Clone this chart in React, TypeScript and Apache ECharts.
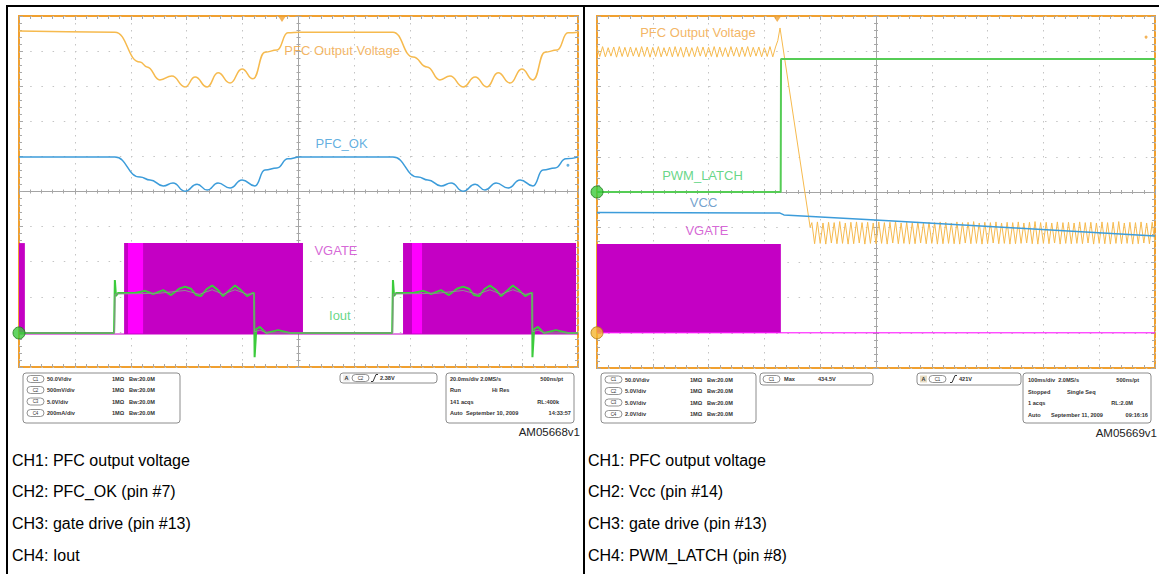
import React, { useEffect, useRef } from "react";
import * as echarts from "echarts";

// ---------------- scales ----------------
// x = time in ms (left capture 20 ms/div, right capture 100 ms/div)
// y = screen divisions measured from the centre graticule line
const leftTimeRange = [-100, 100];
const leftTimeDiv = 20;
const rightTimeRange = [-500, 500];
const rightTimeDiv = 100;
const divRange = [-5, 5];

// ---------------- left capture (AM05668v1) ----------------
const leftPfcVoltage = [
  [-100, 4.57], [-65.7, 4.54], [-56.7, 3.69], [-54.2, 3.55], [-49.6, 3.18], [-45.3, 3.29],
  [-40.6, 2.98], [-37.0, 3.26], [-32.7, 2.98], [-28.8, 3.38], [-24.5, 3.09], [-20.2, 3.49],
  [-16.3, 3.21], [-12.0, 3.97], [-7.7, 4.03], [-3.8, 4.52], [0.5, 4.54],
  [33.8, 4.54], [41.0, 3.83], [46.0, 3.55], [50.6, 3.18], [54.2, 3.29], [58.9, 2.98],
  [63.2, 3.26], [67.4, 2.98], [71.4, 3.38], [75.7, 3.09], [79.9, 3.49], [83.9, 3.18],
  [88.2, 3.97], [92.5, 4.03], [96.4, 4.52], [100, 4.54],
];
const leftPfcOk = [
  [-100, 0.98], [-65.7, 0.98], [-56.7, 0.41], [-53.1, 0.33], [-48.4, 0.16], [-44.9, 0.24],
  [-40.6, 0.01], [-36.3, 0.21], [-32.7, 0.04], [-28.8, 0.24], [-24.5, 0.10], [-20.2, 0.33],
  [-15.6, 0.16], [-12.0, 0.61], [-7.7, 0.67], [-3.8, 0.93], [0.5, 0.98],
  [33.8, 0.98], [42.8, 0.41], [46.3, 0.33], [51.0, 0.16], [54.6, 0.24], [58.9, 0.01],
  [63.2, 0.21], [66.7, 0.04], [70.7, 0.24], [75.0, 0.10], [79.3, 0.33], [83.9, 0.16],
  [87.5, 0.61], [91.8, 0.67], [95.7, 0.93], [100, 0.98],
];
const leftIout = [
  [-100, -4.03], [-66.0, -4.03], [-65.7, -2.52], [-65.3, -2.98], [-64.6, -2.89], [-58.5, -2.89],
  [-54.9, -2.83], [-52.0, -2.92], [-48.4, -2.81], [-45.6, -2.95], [-42.7, -2.77], [-40.6, -2.71],
  [-38.5, -2.77], [-36.6, -2.95], [-34.9, -2.98], [-32.7, -2.77], [-30.9, -2.68], [-28.8, -2.81],
  [-27.0, -2.98], [-24.9, -2.83], [-22.7, -2.68], [-20.6, -2.81], [-18.4, -2.98], [-16.3, -2.89],
  [-15.9, -2.89], [-15.7, -4.72], [-15.1, -3.92], [-13.8, -3.86], [-11.6, -4.03], [-7.3, -3.95],
  [-3.0, -4.03], [33.5, -4.03], [33.8, -2.52], [34.2, -2.98], [34.9, -2.89], [41.0, -2.89],
  [44.6, -2.83], [47.5, -2.92], [51.0, -2.81], [53.8, -2.95], [56.7, -2.77], [58.9, -2.71],
  [61.0, -2.77], [62.8, -2.95], [64.6, -2.98], [66.7, -2.77], [68.5, -2.68], [70.7, -2.81],
  [72.5, -2.98], [74.6, -2.83], [76.7, -2.68], [78.9, -2.81], [81.1, -2.98], [83.2, -2.89],
  [83.6, -2.89], [83.7, -4.72], [84.3, -3.92], [85.7, -3.86], [87.8, -4.03], [92.1, -3.95],
  [96.4, -4.03], [100, -4.03],
];
const leftIoutMean = [
  [-100, -4.03], [-65.8, -4.03], [-65.6, -2.92], [-50.0, -2.90], [-40.6, -2.82], [-35.5, -2.93],
  [-30.9, -2.80], [-27.0, -2.93], [-22.7, -2.80], [-18.4, -2.93], [-16.0, -2.90], [-15.8, -4.0],
  [-13.8, -3.95], [-11.6, -4.03], [33.7, -4.03], [33.9, -2.92], [49.5, -2.90], [58.9, -2.82],
  [64.0, -2.93], [68.5, -2.80], [72.5, -2.93], [76.7, -2.80], [81.1, -2.93], [83.5, -2.90],
  [83.7, -4.0], [85.7, -3.95], [87.8, -4.03], [100, -4.03],
];
const leftVgateBursts = [[-100, -97.9], [-62.4, 1.6], [37.4, 99.3]];
const leftVgateSoftStart = [[-61.0, -55.6], [40.6, 44.2]];
const leftVgateLevels = [-4.06, -1.47]; // low, high
const leftVgateIdle = [[-100, -4.06], [100, -4.06]];
const leftGroundMarkers = [[-100, -4.03]];
const leftTrigger = [[-5.9, 5]];
const leftRefMarker = [[96.4, 0.75]];
const leftLabelTexts = ["PFC Output Voltage", "PFC_OK", "VGATE", "Iout"];
const leftLabelPos = [[15.6, 4.03], [15.4, 1.38], [13.4, -1.67], [14.8, -3.52]];

// ---------------- right capture (AM05669v1) ----------------
const rippleStepMs = 5;
const rightPfcBeforeStart = -500;
const rightPfcBefore = [
  4.11, 3.85, 4.13, 3.84, 4.10, 3.86, 4.12, 3.83, 4.13, 3.85, 4.11, 3.84, 4.12, 3.86, 4.10, 3.84,
  4.13, 3.85, 4.12, 3.83, 4.11, 3.85, 4.13, 3.84, 4.10, 3.86, 4.12, 3.84, 4.13, 3.85, 4.11, 3.83,
  4.12, 3.85, 4.10, 3.84, 4.13, 3.86, 4.12, 3.84, 4.11, 3.85, 4.13, 3.83, 4.12, 3.85, 4.10, 3.84,
  4.13, 3.86, 4.11, 3.84, 4.12, 3.85, 4.13, 3.84, 4.11, 3.86, 4.12, 3.84, 4.10, 3.85, 4.13, 3.84,
  4.12,
];
const rightPfcCollapse = [[-176, 4.3], [-172, 4.66], [-118, -1.0]];
const rightPfcAfterStart = -115;
const rightPfcAfter = [
  -0.87, -1.47, -0.85, -1.46, -0.88, -1.48, -0.86, -1.45, -0.87, -1.47, -0.84, -1.46, -0.88, -1.48, -0.86, -1.47,
  -0.85, -1.45, -0.87, -1.48, -0.86, -1.46, -0.88, -1.47, -0.85, -1.46, -0.87, -1.48, -0.86, -1.45, -0.84, -1.47,
  -0.88, -1.46, -0.86, -1.48, -0.87, -1.47, -0.85, -1.45, -0.88, -1.47, -0.86, -1.46, -0.87, -1.48, -0.85, -1.47,
  -0.86, -1.46, -0.88, -1.47, -0.85, -1.48, -0.87, -1.45, -0.86, -1.47, -0.84, -1.46, -0.88, -1.48, -0.86, -1.47,
  -0.87, -1.45, -0.85, -1.47, -0.88, -1.46, -0.86, -1.48, -0.87, -1.47, -0.85, -1.46, -0.88, -1.45, -0.86, -1.47,
  -0.84, -1.48, -0.87, -1.46, -0.86, -1.47, -0.88, -1.45, -0.85, -1.48, -0.87, -1.46, -0.86, -1.47, -0.88, -1.46,
  -0.85, -1.47, -0.87, -1.45, -0.86, -1.48, -0.88, -1.46, -0.85, -1.47, -0.87, -1.48, -0.86, -1.46, -0.84, -1.47,
  -0.88, -1.46, -0.86, -1.48, -0.87, -1.47, -0.85, -1.45, -0.88, -1.47, -0.86, -1.46,
];
const rightPwmLatch = [[-500, 0.0], [-170.8, 0.0], [-170.2, 3.78], [500, 3.78]];
const rightVcc = [[-500, -0.58], [-172, -0.6], [-165, -0.65], [7, -0.8], [250, -1.02], [500, -1.25]];
const rightVgateBursts = [[-500, -170.5]];
const rightVgateLevels = [-4.0, -1.48];
const rightVgateIdle = [[-500, -4.0], [500, -4.0]];
const rightGroundMarkersGreen = [[-500, 0.0]];
const rightGroundMarkersOrange = [[-500, -4.0]];
const rightTrigger = [[-177, 5]];
const rightRefMarker = [[484, 4.4]];
const rightLabelTexts = ["PFC Output Voltage", "PWM_LATCH", "VCC", "VGATE"];
const rightLabelPos = [[-319, 4.52], [-311, 0.48], [-309, -0.31], [-303, -1.08]];

// ---------------- readout texts ----------------
const leftScaleRows = [["C1", "50.0V/div"], ["C2", "500mV/div"], ["C3", "5.0V/div"], ["C4", "200mA/div"]];
const rightScaleRows = [["C1", "50.0V/div"], ["C2", "5.0V/div"], ["C3", "5.0V/div"], ["C4", "2.0V/div"]];
const probeTexts = ["1MΩ", "Bw:20.0M"];
const leftTriggerTexts = ["A", "C2", "2.38V"];
const rightTriggerTexts = ["A", "C1", "421V"];
const rightMeasureTexts = ["C1", "Max", "434.5V"];
const leftAcqTexts = ["20.0ms/div 2.0MS/s", "500ns/pt", "Run", "Hi Res", "141 acqs", "RL:400k", "Auto", "September 10, 2009", "14:33:57"];
const rightAcqTexts = ["100ms/div  2.0MS/s", "500ns/pt", "Stopped", "Single Seq", "1 acqs", "RL:2.0M", "Auto", "September 11, 2009", "09:16:16"];
const figureIds = ["AM05668v1", "AM05669v1"];
const leftCaptions = ["CH1: PFC output voltage", "CH2: PFC_OK (pin #7)", "CH3: gate drive (pin #13)", "CH4: Iout"];
const rightCaptions = ["CH1: PFC output voltage", "CH2: Vcc (pin #14)", "CH3: gate drive (pin #13)", "CH4: PWM_LATCH (pin #8)"];

// ---------------- styling ----------------
const FONT = '"Liberation Sans", Arial, sans-serif';
const FRAME = "#F0A030";
const GRID_DOT = "#C4C4C4";
const CENTRE = "#A4A4A4";
const TICK = "#A8A8A8";
const ORANGE = "#F6BA4E";
const BLUE = "#3C9CDA";
const MAGENTA = "#C400C4";
const MAGENTA_BRIGHT = "#FF00FF";
const GREEN = "#3CCB3C";
const SMALL = 5.6;

function xAxesFor(g: number, range: number[], interval: number) {
  const tick = { show: true, inside: true, length: 4, lineStyle: { color: TICK } };
  const minor = { show: true, splitNumber: 5, length: 3, lineStyle: { color: TICK } };
  const common: any = {
    type: "value", gridIndex: g, min: range[0], max: range[1], interval,
    axisLabel: { show: false }, splitLine: { show: false }, axisTick: tick, minorTick: minor,
  };
  return [
    { ...common, position: "bottom", axisLine: { show: false, onZero: false },
      splitLine: { show: true, lineStyle: { color: GRID_DOT, width: 1, type: [1.5, 5.5] } } },
    { ...common, position: "top", axisLine: { show: false, onZero: false } },
    { ...common, position: "bottom", axisLine: { show: true, onZero: true, onZeroAxisIndex: 4 * g, lineStyle: { color: CENTRE, width: 1 } },
      axisTick: { ...tick, length: 3 }, minorTick: { ...minor, length: 2 } },
    { ...common, position: "bottom", axisLine: { show: false, onZero: true, onZeroAxisIndex: 4 * g },
      axisTick: { ...tick, inside: false, length: 3 }, minorTick: { ...minor, length: 2 } },
  ];
}
function yAxesFor(g: number) {
  const tick = { show: true, inside: true, length: 4, lineStyle: { color: TICK } };
  const minor = { show: true, splitNumber: 5, length: 3, lineStyle: { color: TICK } };
  const common: any = {
    type: "value", gridIndex: g, min: divRange[0], max: divRange[1], interval: 1,
    axisLabel: { show: false }, splitLine: { show: false }, axisTick: tick, minorTick: minor,
  };
  return [
    { ...common, position: "left", axisLine: { show: false, onZero: false },
      splitLine: { show: true, lineStyle: { color: GRID_DOT, width: 1, type: [1.5, 9.7] } } },
    { ...common, position: "right", axisLine: { show: false, onZero: false } },
    { ...common, position: "left", axisLine: { show: true, onZero: true, onZeroAxisIndex: 4 * g, lineStyle: { color: CENTRE, width: 1 } },
      axisTick: { ...tick, length: 3 }, minorTick: { ...minor, length: 2 } },
    { ...common, position: "left", axisLine: { show: false, onZero: true, onZeroAxisIndex: 4 * g },
      axisTick: { ...tick, inside: false, length: 3 }, minorTick: { ...minor, length: 2 } },
  ];
}

function lineSeries(name: string, data: number[][], ax: any, color: string, width: number, smooth: number | boolean = false) {
  return { type: "line", name, data, ...ax, symbol: "none", smooth, smoothMonotone: "x", silent: true,
    lineStyle: { color, width }, itemStyle: { color } };
}
function blockSeries(name: string, bursts: number[][], levels: number[], ax: any, color: string) {
  return {
    type: "custom", name, ...ax, silent: true, clip: true,
    data: bursts.map(([s, e]) => [s, e, levels[0], levels[1]]),
    encode: { x: [0, 1], y: [2, 3] },
    renderItem: (_p: any, api: any) => {
      const a = api.coord([api.value(0), api.value(3)]);
      const b = api.coord([api.value(1), api.value(2)]);
      return { type: "rect", shape: { x: a[0], y: a[1], width: b[0] - a[0], height: b[1] - a[1] }, style: { fill: color } };
    },
  };
}
function markerSeries(name: string, data: number[][], ax: any, opts: any) {
  return { type: "scatter", name, data, ...ax, silent: true, clip: false, z: 5, ...opts };
}
function labelSeries(name: string, texts: string[], pos: number[][], colors: string[], ax: any) {
  return {
    type: "scatter", name, ...ax, silent: true, clip: false, z: 6, symbolSize: 1,
    itemStyle: { color: "rgba(0,0,0,0)" },
    label: { show: true, position: "inside", formatter: "{b}", fontSize: 13, fontFamily: FONT },
    data: texts.map((t, i) => ({ name: t, value: pos[i], label: { color: colors[i] } })),
  };
}
function sampled(start: number, values: number[]) {
  return values.map((v, i) => [start + i * rippleStepMs, v]);
}

// ---------------- graphic helpers ----------------
const txt = (x: number, y: number, text: string, o: any = {}) => ({
  type: "text", x, y, silent: true,
  style: { text, fill: o.fill ?? "#333", fontSize: o.size ?? SMALL, fontWeight: o.weight ?? "bold", fontFamily: FONT,
    align: o.align ?? "left", verticalAlign: "middle", textAlign: o.align ?? "left", textVerticalAlign: "middle" },
});
const box = (x: number, y: number, w: number, h: number) => ({
  type: "rect", silent: true, shape: { x, y, width: w, height: h, r: 3 }, style: { fill: "#fff", stroke: "#8c8c8c", lineWidth: 1 },
});
const pill = (x: number, y: number, label: string) => [
  { type: "rect", silent: true, shape: { x, y: y - 3.5, width: 17, height: 7, r: 3.5 }, style: { fill: "#fff", stroke: "#777", lineWidth: 0.8 } },
  txt(x + 8.5, y, label, { size: 4.5, align: "center", weight: "normal" }),
];
const badgeA = (x: number, y: number, label: string, fill: string) => [
  { type: "rect", silent: true, shape: { x, y: y - 3.5, width: 7, height: 7 }, style: { fill } },
  txt(x + 3.5, y, label, { size: 5.5, align: "center" }),
];
const slope = (x: number, y: number) => ({
  type: "polyline", silent: true, shape: { points: [[x, y + 3.5], [x + 2, y + 3.5], [x + 5, y - 3.5], [x + 7, y - 3.5]] },
  style: { stroke: "#333", lineWidth: 1, fill: null },
});

function buildGraphics() {
  const els: any[] = [];
  // table rules
  els.push({ type: "rect", silent: true, shape: { x: 6, y: 5, width: 1153, height: 2 }, style: { fill: "#000" } });
  els.push({ type: "rect", silent: true, shape: { x: 6, y: 5, width: 2, height: 569 }, style: { fill: "#000" } });
  els.push({ type: "rect", silent: true, shape: { x: 583, y: 5, width: 2, height: 569 }, style: { fill: "#000" } });

  // left scale box
  els.push(box(23, 373, 157, 50));
  const lRows = [379, 390, 401.5, 413];
  leftScaleRows.forEach(([c, v], i) => {
    els.push(...pill(27, lRows[i], c));
    els.push(txt(47, lRows[i], v));
    els.push(txt(112, lRows[i], probeTexts[0]));
    els.push(txt(129, lRows[i], probeTexts[1]));
  });
  // left trigger box
  els.push(box(340, 373, 97, 10));
  els.push(...badgeA(343, 378, leftTriggerTexts[0], "#EDEDED"));
  els.push(...pill(352, 378, leftTriggerTexts[1]));
  els.push(slope(371, 378));
  els.push(txt(380, 378, leftTriggerTexts[2]));
  // left acquisition box
  els.push(box(446, 373, 128, 50));
  els.push(txt(450, 379, leftAcqTexts[0]));
  els.push(txt(563, 379, leftAcqTexts[1], { align: "right" }));
  els.push(txt(450, 390, leftAcqTexts[2]));
  els.push(txt(492, 390, leftAcqTexts[3]));
  els.push(txt(450, 401.5, leftAcqTexts[4]));
  els.push(txt(559, 401.5, leftAcqTexts[5], { align: "right" }));
  els.push(txt(450, 413, leftAcqTexts[6]));
  els.push(txt(466, 413, leftAcqTexts[7]));
  els.push(txt(571, 413, leftAcqTexts[8], { align: "right" }));
  els.push(txt(580, 432, figureIds[0], { size: 11.5, weight: "normal", fill: "#222", align: "right" }));

  // right scale box
  els.push(box(601, 373, 155, 50));
  const rRows = [379.5, 391, 402.5, 414];
  rightScaleRows.forEach(([c, v], i) => {
    els.push(...pill(605, rRows[i], c));
    els.push(txt(625, rRows[i], v));
    els.push(txt(690, rRows[i], probeTexts[0]));
    els.push(txt(707, rRows[i], probeTexts[1]));
  });
  // right measurement box
  els.push(box(760, 373, 113, 12));
  els.push(...pill(763, 379, rightMeasureTexts[0]));
  els.push(txt(784, 379, rightMeasureTexts[1]));
  els.push(txt(818, 379, rightMeasureTexts[2]));
  // right trigger box
  els.push(box(917, 373, 104, 12));
  els.push(...badgeA(920, 379, rightTriggerTexts[0], "#E6DCC4"));
  els.push(...pill(929, 379, rightTriggerTexts[1]));
  els.push(slope(950, 379));
  els.push(txt(959, 379, rightTriggerTexts[2]));
  // right acquisition box
  els.push(box(1023, 373, 128, 50));
  els.push(txt(1028, 380, rightAcqTexts[0]));
  els.push(txt(1139, 380, rightAcqTexts[1], { align: "right" }));
  els.push(txt(1028, 391.5, rightAcqTexts[2]));
  els.push(txt(1067, 391.5, rightAcqTexts[3]));
  els.push(txt(1028, 402.5, rightAcqTexts[4]));
  els.push(txt(1133, 402.5, rightAcqTexts[5], { align: "right" }));
  els.push(txt(1028, 415, rightAcqTexts[6]));
  els.push(txt(1051, 415, rightAcqTexts[7]));
  els.push(txt(1148, 415, rightAcqTexts[8], { align: "right" }));
  els.push(txt(1157, 433, figureIds[1], { size: 11.5, weight: "normal", fill: "#222", align: "right" }));

  // captions
  const capY = [460, 491.5, 523, 555];
  leftCaptions.forEach((c, i) => els.push(txt(12, capY[i], c, { size: 16, weight: "normal", fill: "#000" })));
  rightCaptions.forEach((c, i) => els.push(txt(588, capY[i], c, { size: 16, weight: "normal", fill: "#000" })));
  return els;
}

function buildOption() {
  const L = { xAxisIndex: 0, yAxisIndex: 0 };
  const R = { xAxisIndex: 4, yAxisIndex: 4 };
  const rightPfc = [...sampled(rightPfcBeforeStart, rightPfcBefore), ...rightPfcCollapse, ...sampled(rightPfcAfterStart, rightPfcAfter)];
  const groundSym = (color: string, border: string) => ({ symbol: "circle", symbolSize: 12, itemStyle: { color, borderColor: border, borderWidth: 1 } });
  const trigSym = { symbol: "triangle", symbolRotate: 180, symbolSize: [8, 6], symbolOffset: [0, 3], itemStyle: { color: "#F0A030" } };
  return {
    animation: false,
    backgroundColor: "#fff",
    textStyle: { fontFamily: FONT },
    grid: [
      { left: 19, top: 16, width: 559, height: 351, show: true, borderColor: FRAME, borderWidth: 2, backgroundColor: "#fff" },
      { left: 597, top: 16, width: 558, height: 352, show: true, borderColor: FRAME, borderWidth: 2, backgroundColor: "#fff" },
    ],
    xAxis: [...xAxesFor(0, leftTimeRange, leftTimeDiv), ...xAxesFor(1, rightTimeRange, rightTimeDiv)],
    yAxis: [...yAxesFor(0), ...yAxesFor(1)],
    series: [
      // left
      lineSeries("VGATE idle", leftVgateIdle, L, MAGENTA, 1),
      blockSeries("VGATE", leftVgateBursts, leftVgateLevels, L, MAGENTA),
      blockSeries("VGATE soft start", leftVgateSoftStart, leftVgateLevels, L, MAGENTA_BRIGHT),
      lineSeries("PFC Output Voltage", leftPfcVoltage, L, ORANGE, 1.5, 0.5),
      lineSeries("PFC_OK", leftPfcOk, L, BLUE, 1.5, 0.5),
      lineSeries("Iout", leftIout, L, GREEN, 2),
      lineSeries("Iout mean", leftIoutMean, L, "#8E8E8E", 1),
      markerSeries("CH4 ground", leftGroundMarkers, L, groundSym("#3CCB3C", "#1E7A1E")),
      markerSeries("trigger", leftTrigger, L, trigSym),
      markerSeries("ref", leftRefMarker, L, { symbol: "circle", symbolSize: 3, itemStyle: { color: BLUE } }),
      labelSeries("labels L", leftLabelTexts, leftLabelPos, ["#F0A33C", "#3B9BD8", "#CC3FCC", "#3FCC6A"], L),
      // right
      lineSeries("VGATE idle R", rightVgateIdle, R, MAGENTA_BRIGHT, 1),
      blockSeries("VGATE R", rightVgateBursts, rightVgateLevels, R, MAGENTA),
      lineSeries("PFC Output Voltage R", rightPfc, R, ORANGE, 1),
      lineSeries("PWM_LATCH", rightPwmLatch, R, "#55CC55", 2),
      lineSeries("VCC", rightVcc, R, BLUE, 1.5),
      markerSeries("CH4 ground R", rightGroundMarkersGreen, R, groundSym("#3CCB3C", "#1E7A1E")),
      markerSeries("CH1 ground R", rightGroundMarkersOrange, R, groundSym("#F5B530", "#B07A10")),
      markerSeries("trigger R", rightTrigger, R, trigSym),
      markerSeries("ref R", rightRefMarker, R, { symbol: "circle", symbolSize: 3, itemStyle: { color: "#F0A030" } }),
      labelSeries("labels R", rightLabelTexts, rightLabelPos, ["#F0A33C", "#3FCC6A", "#4F8AC0", "#CC3FCC"], R),
    ],
    graphic: { elements: buildGraphics() },
  };
}

export default function App() {
  const ref = useRef<HTMLDivElement>(null);
  useEffect(() => {
    document.body.style.margin = "0";
    const chart = echarts.init(ref.current as HTMLDivElement, null, { renderer: "svg" });
    chart.setOption(buildOption() as any);
    return () => chart.dispose();
  }, []);
  return <div ref={ref} style={{ position: "absolute", left: 0, top: 0, width: 1159, height: 574, background: "#fff" }} />;
}
